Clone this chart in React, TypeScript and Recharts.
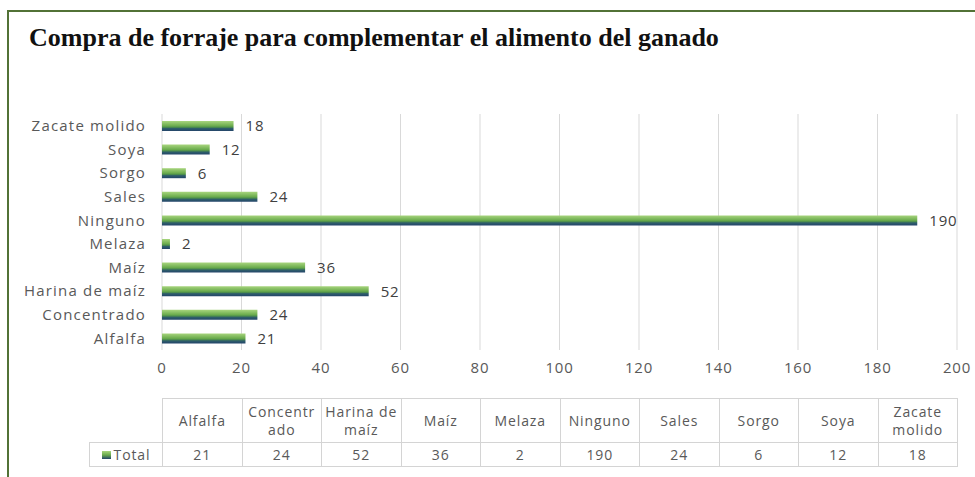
import { BarChart, Bar, XAxis, YAxis, CartesianGrid, LabelList } from "recharts";

const categories = [
  "Alfalfa",
  "Concentrado",
  "Harina de maíz",
  "Maíz",
  "Melaza",
  "Ninguno",
  "Sales",
  "Sorgo",
  "Soya",
  "Zacate molido",
];
const totals = [21, 24, 52, 36, 2, 190, 24, 6, 12, 18];
const xTicks = [0, 20, 40, 60, 80, 100, 120, 140, 160, 180, 200];
const seriesName = "Total";
const title = "Compra de forraje para complementar el alimento del ganado";

const data = categories.map((name, i) => ({ name, value: totals[i] }));

// layout
const W = 975;
const H = 477;
const PLOT_LEFT = 162;
const PLOT_RIGHT = 957;
const PLOT_TOP = 114;
const PLOT_BOTTOM = 350;
const AXIS_H = 30;
const FONT = "'Open Sans', sans-serif";
const TEXT = "#595959";
const GRID = "#d9d9d9";

const colW = (PLOT_RIGHT - PLOT_LEFT) / categories.length;
const TABLE_TOP = 398;
const HEAD_H = 44;
const ROW_H = 24;

function BarGradientDefs() {
  return (
    <defs>
      <linearGradient id="barFill" x1="0" y1="0" x2="0" y2="1">
        <stop offset="0%" stopColor="#a8d57e" />
        <stop offset="50%" stopColor="#6aab4c" />
        <stop offset="64%" stopColor="#4a8a4e" />
        <stop offset="74%" stopColor="#2f5f6a" />
        <stop offset="100%" stopColor="#23446a" />
      </linearGradient>
    </defs>
  );
}

function DataTable() {
  const cell: React.CSSProperties = {
    position: "absolute",
    boxSizing: "border-box",
    display: "flex",
    alignItems: "center",
    justifyContent: "center",
    textAlign: "center",
    fontFamily: FONT,
    fontSize: 14,
    letterSpacing: 0.9,
    lineHeight: "18px",
    color: TEXT,
    border: "1px solid #d4d4d4",
    overflowWrap: "anywhere",
    padding: "0 1px",
  };
  return (
    <>
      {categories.map((c, i) => (
        <div
          key={"h" + c}
          style={{
            ...cell,
            left: PLOT_LEFT + i * colW,
            top: TABLE_TOP,
            width: colW + 1,
            height: HEAD_H + 1,
            padding: "0 3px",
          }}
        >
          {c}
        </div>
      ))}
      <div
        style={{
          ...cell,
          left: 89,
          top: TABLE_TOP + HEAD_H,
          width: PLOT_LEFT - 89 + 1,
          height: ROW_H + 1,
          gap: 3,
        }}
      >
        <span
          style={{
            display: "inline-block",
            width: 9,
            height: 8,
            background: "linear-gradient(#a8d57e, #6aab4c 50%, #23446a)",
          }}
        />
        {seriesName}
      </div>
      {totals.map((v, i) => (
        <div
          key={"v" + i}
          style={{
            ...cell,
            left: PLOT_LEFT + i * colW,
            top: TABLE_TOP + HEAD_H,
            width: colW + 1,
            height: ROW_H + 1,
          }}
        >
          {v}
        </div>
      ))}
    </>
  );
}

export default function App() {
  return (
    <div
      style={{
        position: "absolute",
        left: 0,
        top: 0,
        width: W,
        height: H,
        background: "#fff",
        overflow: "hidden",
      }}
    >
      {/* green frame, only top and left edges visible */}
      <div
        style={{
          position: "absolute",
          left: 7,
          top: 10,
          width: W,
          height: H,
          borderTop: "2px solid #527236",
          borderLeft: "2px solid #527236",
        }}
      />
      <div
        style={{
          position: "absolute",
          left: 29,
          top: 23,
          fontFamily: "'Liberation Serif', 'Times New Roman', serif",
          fontWeight: 700,
          fontSize: 26,
          color: "#111",
          whiteSpace: "nowrap",
        }}
      >
        {title}
      </div>

      <div style={{ position: "absolute", left: 0, top: 0 }}>
        <BarChart
          width={W}
          height={H}
          data={data}
          layout="vertical"
          margin={{
            top: PLOT_TOP,
            bottom: H - PLOT_BOTTOM - AXIS_H,
            left: 0,
            right: W - PLOT_RIGHT,
          }}
        >
          <BarGradientDefs />
          <CartesianGrid horizontal={false} stroke={GRID} />
          <XAxis
            type="number"
            domain={[0, 200]}
            ticks={xTicks}
            height={AXIS_H}
            axisLine={false}
            tickLine={false}
            tickMargin={6}
            tick={{ fill: TEXT, fontSize: 15, fontFamily: FONT, letterSpacing: 0.8 }}
          />
          <YAxis
            type="category"
            dataKey="name"
            reversed
            width={PLOT_LEFT}
            axisLine={false}
            tickLine={false}
            tickSize={0}
            tickMargin={16}
            interval={0}
            tick={{ fill: TEXT, fontSize: 15, fontFamily: FONT, letterSpacing: 1.2 }}
          />
          <Bar
            dataKey="value"
            name={seriesName}
            fill="url(#barFill)"
            barSize={10}
            isAnimationActive={false}
          >
            <LabelList
              dataKey="value"
              position="right"
              offset={12}
              fill="#404040"
              fontSize={15}
              fontFamily={FONT}
              letterSpacing={0.8}
            />
          </Bar>
        </BarChart>
      </div>

      <DataTable />
    </div>
  );
}
